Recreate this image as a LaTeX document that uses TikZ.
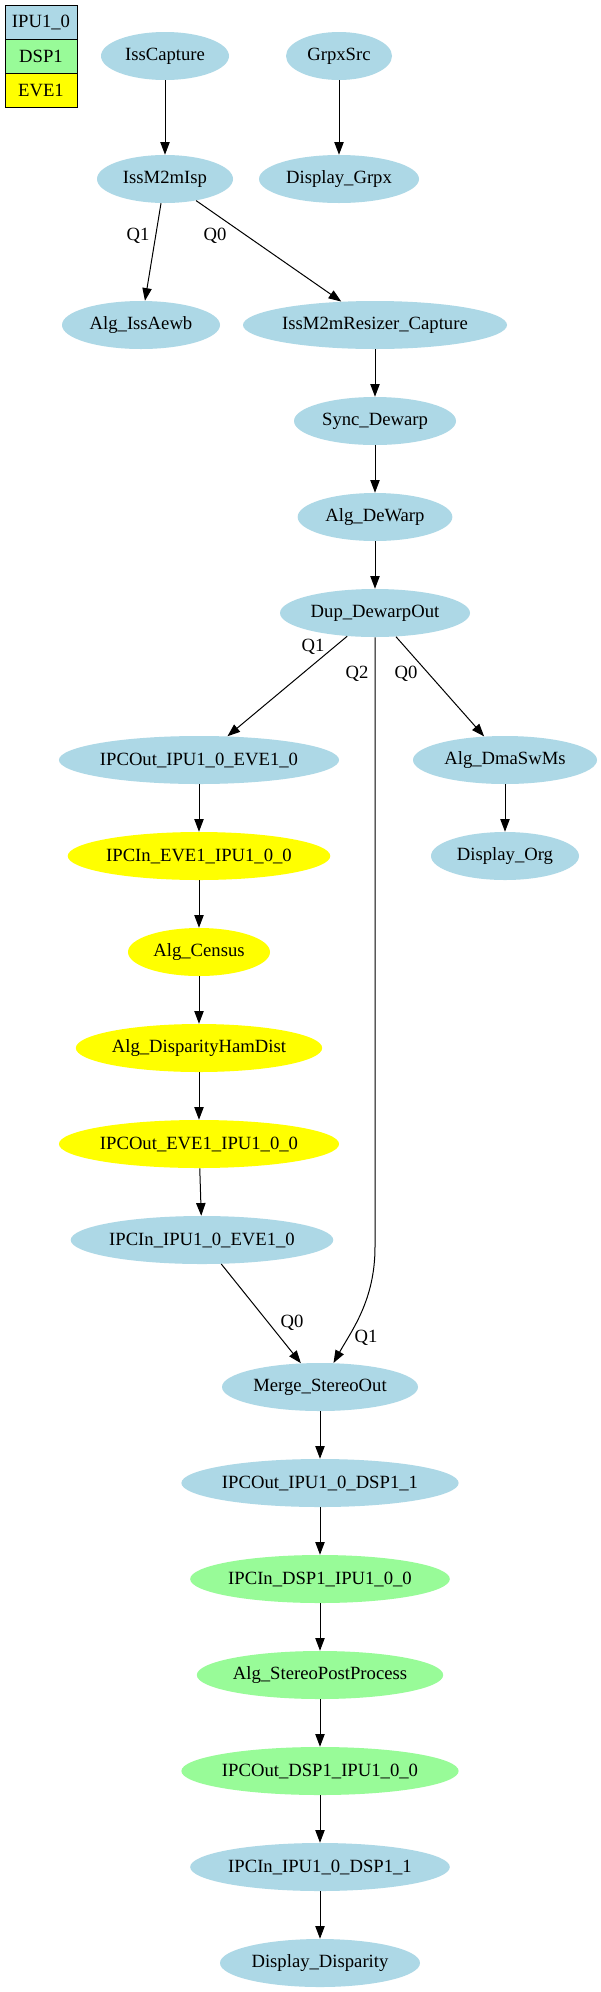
\documentclass[tikz,border=0pt]{standalone}
\usepackage{fontspec}
\setmainfont{Liberation Serif}
\usetikzlibrary{arrows.meta,shapes.geometric}
\definecolor{ipu}{HTML}{ADD8E6}
\definecolor{dsp}{HTML}{98FB98}
\definecolor{eve}{HTML}{FFFF00}
\begin{document}
\begin{tikzpicture}[x=0.75pt,y=-0.75pt,
  every node/.style={font=\fontsize{14}{16}\selectfont},
  blk/.style={ellipse, inner sep=0pt, minimum height=36pt},
  ipun/.style={blk, fill=ipu},
  dspn/.style={blk, fill=dsp},
  even/.style={blk, fill=eve},
  legcell/.style={draw=black, line width=0.75pt, inner sep=0pt, minimum width=54pt, minimum height=25.5pt},
  conn/.style={line width=0.75pt, -{Triangle[length=9.5pt,width=7pt]}},
  lbl/.style={inner sep=0pt}
]
\useasboundingbox (0,0) rectangle (600,1992);
\fill[white] (0,0) rectangle (600,1992);

% legend
\node[legcell, fill=ipu] (legipu) at (41,22) {IPU1\_0};
\node[legcell, fill=dsp] (legdsp) at (41,56) {DSP1};
\node[legcell, fill=eve] (legeve) at (41,90) {EVE1};

% nodes
\node[ipun, minimum width=96pt]    (isscap)   at (165,56)  {IssCapture};
\node[ipun, minimum width=79.5pt]  (grpx)     at (339,56)  {GrpxSrc};
\node[ipun, minimum width=102pt]   (m2misp)   at (165,179) {IssM2mIsp};
\node[ipun, minimum width=120pt]   (dispgrpx) at (339,179) {Display\_Grpx};
\node[ipun, minimum width=118.5pt] (aewb)     at (141,325) {Alg\_IssAewb};
\node[ipun, minimum width=198pt]   (resizer)  at (375,325) {IssM2mResizer\_Capture};
\node[ipun, minimum width=121.5pt] (sync)     at (375,421) {Sync\_Dewarp};
\node[ipun, minimum width=116pt]   (dewarp)   at (375,517) {Alg\_DeWarp};
\node[ipun, minimum width=142.5pt] (dup)      at (375,613) {Dup\_DewarpOut};
\node[ipun, minimum width=205.5pt] (ipcout1)  at (199,760) {IPCOut\_IPU1\_0\_EVE1\_0};
\node[ipun, minimum width=138pt]   (dma)      at (505,760) {Alg\_DmaSwMs};
\node[even, minimum width=196.5pt] (ipcin1)   at (199,856) {IPCIn\_EVE1\_IPU1\_0\_0};
\node[ipun, minimum width=111pt]   (disporg)  at (505,856) {Display\_Org};
\node[even, minimum width=106.5pt] (census)   at (199,952) {Alg\_Census};
\node[even, minimum width=183pt]   (hamdist)  at (199,1048) {Alg\_DisparityHamDist};
\node[even, minimum width=205.5pt] (ipcout2)  at (199,1144) {IPCOut\_EVE1\_IPU1\_0\_0};
\node[ipun, minimum width=193.5pt] (ipcin2)   at (202,1240) {IPCIn\_IPU1\_0\_EVE1\_0};
\node[ipun, minimum width=147pt]   (merge)    at (320,1387) {Merge\_StereoOut};
\node[ipun, minimum width=204pt]   (ipcout3)  at (320,1483) {IPCOut\_IPU1\_0\_DSP1\_1};
\node[dspn, minimum width=190.5pt] (ipcin3)   at (320,1579) {IPCIn\_DSP1\_IPU1\_0\_0};
\node[dspn, minimum width=183pt]   (stereo)   at (320,1675) {Alg\_StereoPostProcess};
\node[dspn, minimum width=201pt]   (ipcout4)  at (320,1771) {IPCOut\_DSP1\_IPU1\_0\_0};
\node[ipun, minimum width=192pt]   (ipcin4)   at (320,1867) {IPCIn\_IPU1\_0\_DSP1\_1};
\node[ipun, minimum width=150pt]   (dispdisp) at (320,1963) {Display\_Disparity};

% connectors
\draw[conn] (isscap) -- (m2misp);
\draw[conn] (grpx) -- (dispgrpx);
\draw[conn] (m2misp) -- (aewb);
\draw[conn] (m2misp) -- (resizer);
\draw[conn] (resizer) -- (sync);
\draw[conn] (sync) -- (dewarp);
\draw[conn] (dewarp) -- (dup);
\draw[conn] (dup) -- (ipcout1);
\draw[conn] (dup) -- (dma);
\coordinate (q2bend) at (375,1247);
\draw[conn] (dup) -- (q2bend) .. controls (375,1300) and (352,1330) .. (merge);
\draw[conn] (dma) -- (disporg);
\draw[conn] (ipcout1) -- (ipcin1);
\draw[conn] (ipcin1) -- (census);
\draw[conn] (census) -- (hamdist);
\draw[conn] (hamdist) -- (ipcout2);
\draw[conn] (ipcout2) -- (ipcin2);
\draw[conn] (ipcin2) -- (merge);
\draw[conn] (merge) -- (ipcout3);
\draw[conn] (ipcout3) -- (ipcin3);
\draw[conn] (ipcin3) -- (stereo);
\draw[conn] (stereo) -- (ipcout4);
\draw[conn] (ipcout4) -- (ipcin4);
\draw[conn] (ipcin4) -- (dispdisp);

% labels
\node[lbl] (la1) at (138,236) {Q1};
\node[lbl] (la0) at (215,236) {Q0};
\node[lbl] (lb1) at (313,647) {Q1};
\node[lbl] (lb2) at (357,674) {Q2};
\node[lbl] (lb0) at (406,674) {Q0};
\node[lbl] (lc0) at (292,1323) {Q0};
\node[lbl] (lc1) at (366,1338) {Q1};
\end{tikzpicture}
\end{document}
